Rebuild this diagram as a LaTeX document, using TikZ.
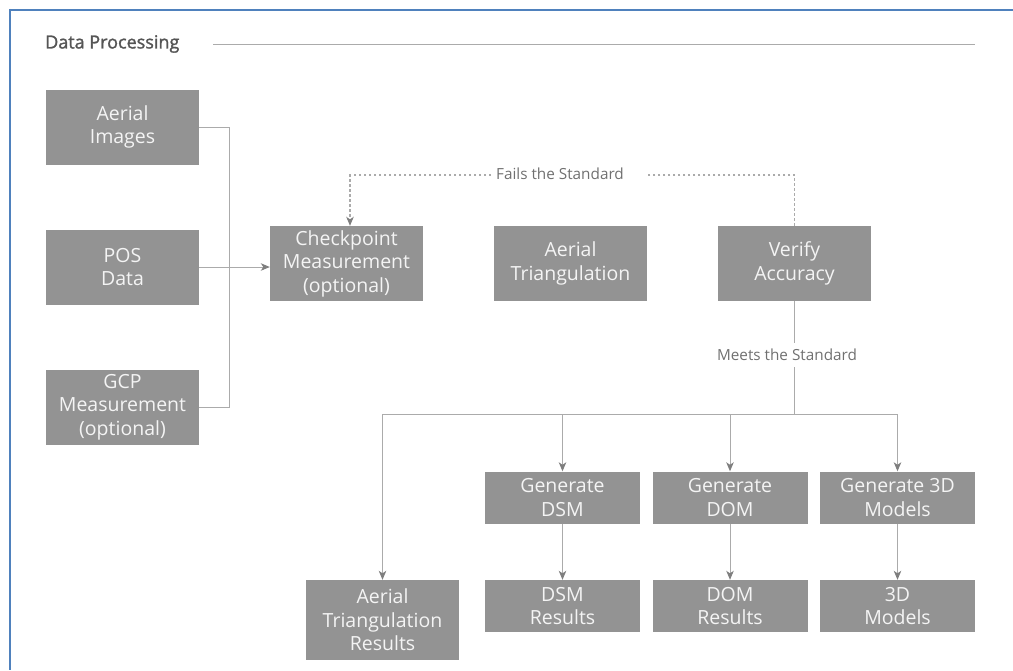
\documentclass[tikz,border=0pt]{standalone}
\usepackage{fontspec}
\setmainfont{Open Sans}
\usetikzlibrary{arrows.meta,calc}
\definecolor{boxgray}{HTML}{939393}
\definecolor{boxtext}{HTML}{F4F4F4}
\definecolor{linegray}{HTML}{ABABAB}
\definecolor{tipgray}{HTML}{7E7E7E}
\definecolor{labelgray}{HTML}{707070}
\definecolor{titlegray}{HTML}{555555}
\definecolor{frameblue}{HTML}{4F81BD}
\begin{document}
\begin{tikzpicture}[x=1pt,y=-1pt,
  procbox/.style={fill=boxgray, text=boxtext, font=\fontsize{19.5}{23.5}\selectfont,
    align=center, inner sep=0pt, minimum width=153pt, minimum height=75pt},
  smallbox/.style={procbox, minimum width=155pt, minimum height=52pt},
  conn/.style={draw=linegray, line width=1pt},
  arr/.style={conn, -{Stealth[length=9pt,width=7.5pt,inset=2.5pt,color=tipgray]}},
  dotconn/.style={draw=linegray, line width=1.3pt, dash pattern=on 2.5pt off 2.5pt},
  lbl/.style={text=labelgray, font=\fontsize{15.3}{18}\selectfont, inner sep=0pt},
]
\useasboundingbox (0,0) rectangle (1013,670);
% frame
\draw[frameblue, line width=2.5pt] (1013,10) -- (8.75,10);
\draw[frameblue, line width=2.5pt] (10,8.75) -- (10,670);
% title
\node[anchor=west, text=titlegray, font=\fontsize{18}{22}\selectfont, inner sep=0pt] (title) at (45,44) {\addfontfeature{FakeBold=1.5}Data Processing};
\coordinate (tl1) at (213,44);
\coordinate (tl2) at (975,44);
\draw[linegray, line width=0.9pt] (tl1) -- (tl2);

% inputs
\node[procbox] (aer) at (122.5,127) {Aerial\\Images};
\node[procbox] (pos) at (122.5,267) {POS\\Data};
\node[procbox] (gcp) at (122.5,407) {GCP\\Measurement\\(optional)};

% middle row
\node[procbox] (chk) at (346.5,263.5) {Checkpoint\\Measurement\\(optional)};
\node[procbox] (at)  at (570.5,263.5) {Aerial\\Triangulation};
\node[procbox] (ver) at (794.5,263.5) {Verify\\Accuracy};

% generate row
\node[smallbox] (gdsm) at (562.5,497.5) {Generate\\DSM};
\node[smallbox] (gdom) at (730,497.5) {Generate\\DOM};
\node[smallbox] (gtd)  at (897.5,497.5) {Generate 3D\\Models};

% results row
\node[procbox, minimum height=80pt] (atr) at (382.5,620) {Aerial\\Triangulation\\Results};
\node[smallbox] (dsmr) at (562.5,606) {DSM\\Results};
\node[smallbox] (domr) at (730,606) {DOM\\Results};
\node[smallbox] (tdr)  at (897.5,606) {3D\\Models};

% inputs bracket
\coordinate (bx) at (229,127);
\draw[conn] (aer.east) -- (bx) -- (bx |- gcp.east) -- (gcp.east);
\draw[arr] (pos.east) -- (pos.east -| chk.west);

% fails the standard (dotted)
\coordinate (fr) at (647,175);
\coordinate (fl) at (491,175);
\node[lbl] (fails) at (560,174) {Fails the Standard};
\draw[dotconn] (ver.north) |- (fr);
\draw[dotconn, -{Stealth[length=9pt,width=7.5pt,inset=2.5pt,color=tipgray]}] (fl) -| ([xshift=3.5pt]chk.north);

% meets the standard
\node[lbl] (meets) at (787,355) {Meets the Standard};
\coordinate (m1) at (794.5,343);
\coordinate (m2) at (794.5,367);
\coordinate (bus) at (794.5,414);
\draw[conn] (ver.south) -- (m1);
\draw[conn] (m2) -- (bus);
\coordinate (busL) at (382.5,414);
\coordinate (busR) at (897.5,414);
\draw[conn] (busL) -- (busR);
\draw[arr] (busL) -- (atr.north);
\draw[arr] (gdsm.north |- bus) -- (gdsm.north);
\draw[arr] (gdom.north |- bus) -- (gdom.north);
\draw[arr] (busR) -- (gtd.north);

\draw[arr] (gdsm.south) -- (dsmr.north);
\draw[arr] (gdom.south) -- (domr.north);
\draw[arr] (gtd.south) -- (tdr.north);
\end{tikzpicture}
\end{document}
